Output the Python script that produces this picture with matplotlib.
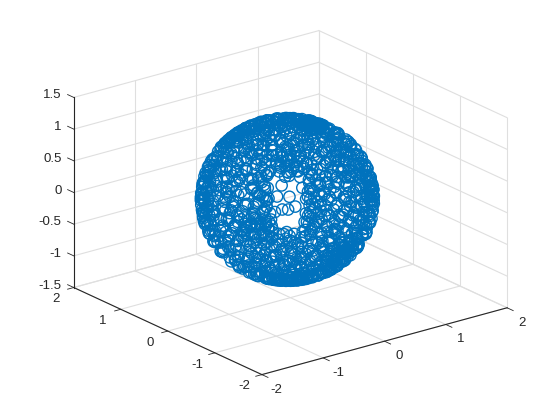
import matplotlib
matplotlib.use("Agg")
import matplotlib.pyplot as plt
import numpy as np
from mpl_toolkits.mplot3d import proj3d

plt.rcParams["font.family"] = ["Liberation Sans", "DejaVu Sans"]

radius_xy = 1.12
radius_z = 1.19
center = (-0.03, 0.025, 0.05)

# Latitude of each row and the longitudes read along it (degrees)
lat_rows = [87, 84, 81, 78, 75, 72, 69, 66, 63, 60, 57, 54, 51, 48, 45, 42, 39, 36, 33, 30,
            27, 24, 21, 18, 15, 12, 9, 6, 3, 0, -3, -6, -9, -12, -15, -18, -21, -24, -27, -30,
            -33, -36, -39, -42, -45, -48, -51, -54, -57, -60, -63, -66, -69, -72, -75, -78, -81, -84, -87,
            # denser patches
            25, 16, 8, 1, -5, -13, -20,
            71, 74, 68, 65,
            -20, -24, -28, -32,
            12, 8, 4, 0, -4,
            5, 1, -3, -7,
            -62, -66, -70, -58,
            50, 46, 42, 38,
            55, 50, 47,
            # second pass over the middle of the disc
            73.5, 67.5, 61.5, 58.5, 55.5, 52.5, 49.5, 46.5, 43.5, 40.5,
            37.5, 34.5, 31.5, 28.5, 25.5, 22.5, 19.5, 16.5, 13.5, 10.5, 7.5, 4.5, 1.5,
            -1.5, -4.5, -7.5, -10.5, -13.5, -16.5, -19.5, -22.5, -25.5, -28.5, -31.5, -34.5,
            -37.5, -40.5, -43.5, -46.5, -49.5, -52.5, -55.5, -58.5, -61.5, -64.5, -67.5, -70.5,
            -73.5, -76.5,
            # right part of the disc
            55, 49, 43, 37, 31, 25, 19, 13, 7, 1, -5, -11, -17, -23, -29, -35, -41, -47, -53, -59,
            # rings inside the gap
            32, 24, 15, 17, 3, -3, -1.5, 13,
            # around the gap
            10, 6, 2, -2, -6, 42, 45, 39, 30, 22, 12.5, 5.5,
            # solid patches: left edge, top, upper left
            22, 12, 6, -2, -9, -16,
            76, 79, 70, 73, 66,
            44, 48, 40, 52,
            # solid patches: lower left, lower right, right, bottom
            3, -1, -5, 7,
            -26, -22, -30, -18,
            14, 10, 6, 2,
            -64, -68, -60, -72]
lon_rows = [
    [-160, 25],
    [-95, 60, 170],
    [-140, -20, 40, 110],
    [-170, -75, 10, 85, 150],
    [-120, -65, -35, 30, 95, 165],
    [-155, -88, -48, -12, 47, 122, 178],
    [-178, -110, -60, -28, 5, 70, 103, 140],
    [-165, -135, -80, -22, 28, 55, 88, 118, 150],
    [-150, -118, -95, -45, -5, 15, 52, 108, 172],
    [-172, -125, -98, -70, -15, 2, 38, 80, 133, 160],
    [-160, -135, -105, -55, -28, 20, 62, 90, 115, 178],
    [-145, -112, -85, -38, 8, 48, 75, 100, 128, 150, 176],
    [-168, -128, -92, -62, -18, 14, 42, 70, 96, 122, 146],
    [-175, -150, -108, -75, -40, -8, 26, 58, 88, 112, 138, 165],
    [-158, -122, -88, -52, -20, 10, 36, 66, 104, 118, 132, 170],
    [-178, -143, -100, -66, -30, 2, 30, 74, 96, 126, 152],
    [-165, -146, -106, -78, -44, -12, 18, 52, 82, 110, 136, 160],
    [-175, -152, -95, -58, -26, 6, 40, 68, 100, 124, 148, 172],
    [-160, -110, -84, -48, -16, 24, 56, 90, 114, 142, 168],
    [-170, -145, -102, -70, -36, -4, 34, 62, 86, 120, 152, 178],
    [-155, -112, -90, -54, -22, 12, 44, 76, 106, 134, 160],
    [-178, -148, -104, -76, -42, -10, 20, 58, 92, 116, 140, 170],
    [-165, -142, -96, -64, -30, 6, 38, 70, 100, 128, 150],
    [-172, -150, -110, -82, -50, -18, 26, 54, 84, 112, 136, 164],
    [-158, -108, -72, -40, -6, 16, 46, 78, 104, 124, 146, 176],
    [-168, -144, -100, -60, -26, 10, 34, 66, 94, 118, 142, 160],
    [-176, -152, -112, -86, -46, -14, 22, 56, 88, 110, 132, 156],
    [-162, -142, -104, -68, -34, 4, 42, 74, 98, 126, 148, 170],
    [-170, -148, -110, -78, -52, -20, 14, 48, 82, 116, 138, 164],
    [-178, -156, -100, -62, -28, 8, 36, 68, 92, 122, 144, 174],
    [-166, -130, -94, -70, -38, -6, 26, 52, 86, 108, 134, 158],
    [-176, -146, -116, -84, -54, -16, 18, 44, 76, 102, 128, 152],
    [-160, -124, -98, -64, -30, 2, 30, 70, 96, 120, 140, 168],
    [-172, -138, -106, -74, -44, -12, 22, 78, 90, 114, 136, 162],
    [-154, -120, -88, -56, -24, 10, 34, 68, 100, 126, 148, 178],
    [-166, -132, -102, -70, -36, -4, 28, 72, 94, 118, 142, 170],
    [-148, -114, -82, -50, -18, 14, 36, 66, 106, 130, 156],
    [-174, -140, -108, -76, -42, -8, 24, 74, 98, 122, 144, 164],
    [-158, -126, -92, -60, -28, 6, 32, 68, 88, 112, 136, 176],
    [-168, -134, -100, -66, -34, -2, 20, 72, 104, 128, 152],
    [-150, -118, -84, -52, -16, 12, 36, 80, 96, 120, 146, 170],
    [-176, -142, -106, -72, -40, -6, 26, 66, 90, 114, 138, 160],
    [-160, -124, -90, -58, -22, 8, 34, 76, 108, 132, 154],
    [-170, -136, -98, -64, -30, 14, 30, 70, 94, 118, 144],
    [-152, -116, -80, -46, -10, 22, 38, 84, 106, 128, 166],
    [-178, -140, -102, -68, -26, 6, 34, 74, 98, 148],
    [-158, -122, -88, -50, -14, 20, 54, 90, 116, 170],
    [-168, -134, -96, -60, -24, 12, 44, 80, 130, 156],
    [-146, -110, -72, -36, 2, 34, 68, 104, 178],
    [-172, -128, -92, -52, -12, 24, 60, 120, 150],
    [-156, -116, -76, -30, 8, 48, 90, 138],
    [-138, -96, -56, -14, 30, 76, 118, 170],
    [-166, -108, -62, -18, 36, 94, 150],
    [-130, -78, -24, 40, 110, 176],
    [-152, -90, -20, 62, 134],
    [-112, -40, 30, 120],
    [-170, -60, 70],
    [-100, 40],
    [160],
    [125, 147, 168],
    [115, 138, 160],
    [128, 150, 172],
    [118, 141, 163],
    [112, 131, 155],
    [122, 146, 170],
    [116, 136, 160],
    [-38, -22, -8, 6],
    [-30, -14, 2, 20],
    [-32, -18, -4],
    [-40, -26, -6, 12],
    [-92, -84, -76],
    [-96, -86, -80],
    [-90, -82, -74],
    [-94, -78],
    [-58, -38, -22],
    [-52, -32, -14],
    [-60, -42, -24],
    [-48, -30, -12],
    [-56, -20],
    [-154, -146],
    [-150, -140],
    [-156, -144],
    [-150, -138],
    [-146, -128, -104],
    [-152, -118],
    [-138, -96],
    [-136, -120],
    [108, 124],
    [98, 114, 128],
    [106, 120, 135],
    [112, 128],
    [-140, -128],
    [-146, -134],
    [-138, -126],
    [-165, -130, -95, -60, 5, 38, 78, 115],
    [-158, -122, -90, 10, 42, 72, 104],
    [-162, -128, -84, 22, 58, 92, 124],
    [-178, -148, -118, -88, 8, 44, 76, 106],
    [-166, -124, -94, -66, 30, 56, 84, 112],
    [-172, -152, -114, -80, 18, 50, 78, 104],
    [-160, -118, -96, -68, 4, 36, 64, 92],
    [-170, -134, -104, -82, 22, 50, 80, 100],
    [-152, -112, -92, -72, 12, 44, 60, 86],
    [-166, -144, -108, -86, 28, 58, 78, 104],
    [-174, -150, -100, -80, 16, 42, 64, 94],
    [-158, -104, -88, -68, 8, 32, 70, 86],
    [-168, -146, -96, -76, 24, 50, 74, 98],
    [-154, -110, -86, -62, 14, 40, 66, 92],
    [-172, -150, -100, -78, 6, 34, 58, 84],
    [-160, -144, -108, -90, 20, 48, 74, 102],
    [-176, -148, -98, -70, 12, 42, 64, 96],
    [-156, -142, -104, -84, 28, 52, 80, 100],
    [-168, -110, -92, -66, 8, 38, 72, 90],
    [-150, -106, -80, -58, 18, 44, 62, 86],
    [-174, -146, -98, -74, 26, 50, 70, 104],
    [-160, -142, -108, -88, 12, 40, 60, 94],
    [-172, -152, -96, -66, 4, 30, 76, 100],
    [-164, -138, -112, -80, 22, 46, 84, 96],
    [-176, -150, -126, -92, 10, 36, 66, 90],
    [-158, -134, -104, -76, 24, 38, 72, 104],
    [-170, -142, -118, -90, 6, 32, 76, 98],
    [-164, -128, -98, -72, 18, 36, 66, 86],
    [-176, -146, -112, -84, 8, 26, 74, 102],
    [-156, -124, -94, -68, 20, 38, 70, 92],
    [-168, -136, -106, -78, 4, 30, 68, 84],
    [-152, -118, -88, -64, 16, 36, 78, 100],
    [-172, -144, -110, -82, 10, 26, 70, 94],
    [-160, -130, -96, -70, 22, 38, 66, 88],
    [-174, -148, -116, -86, 6, 32, 78, 100],
    [-156, -120, -94, -74, 18, 36, 68, 86],
    [-166, -132, -104, -80, 10, 28, 72, 96],
    [-178, -146, -112, -84, 20, 36, 66, 92],
    [-154, -122, -94, -70, 4, 30, 76, 100],
    [-168, -136, -106, -78, 14, 38, 68, 86],
    [-148, -116, -86, -60, 24, 50, 74, 98],
    [-170, -130, -98, -72, 8, 40, 62, 92],
    [-152, -118, -84, 18, 48, 80, 104],
    [-172, -136, -100, -66, 32, 58, 86],
    [-144, -106, -72, 12, 42, 70, 100],
    [-160, -122, -86, 26, 62, 94],
    [-146, -104, -66, 14, 52, 84],
    [-118, -74, 30, 72],
    [-150, -90, 10, 60],
    [-72, -46, -20, 6],
    [-58, -34, -10],
    [-74, -50, -22, 4],
    [-64, -38, -14, 10],
    [-76, -44, -28, 0],
    [-60, -32, -12, 8],
    [-70, -46, -24, 2],
    [-78, -52, -16, -2],
    [-64, -36, -8, 12],
    [-72, -42, -18, 6],
    [-66, -46, -26, 0],
    [-78, -54, -34, -8],
    [-62, -40, -20, 4],
    [-72, -48, -28, -4],
    [-58, -36, -14, 8],
    [-76, -50, -26, 0],
    [-66, -42, -18, 6],
    [-56, -32, -8],
    [-70, -44, -18, 10],
    [-60, -34, -6],
    [-132],
    [-135, -126],
    [-131, -127],
    [-122],
    [-138],
    [-133, -123],
    [-128],
    [-136],
    [48, 56],
    [52, 60],
    [46, 54],
    [50, 58],
    [54],
    [-128, -118],
    [-134, -112],
    [-126],
    [-116],
    [-114],
    [-112],
    [-116],
    [120, 134, 152],
    [126, 144, 166],
    [134, 158],
    [122, 148, 168],
    [128, 152],
    [130, 150, 172],
    [-35, -20, -5],
    [-40, -10, 15],
    [-42, -28, -12, 4],
    [-45, -25, -6],
    [-16, -2, 14],
    [102, 118, 132],
    [112, 126],
    [110, 124],
    [104, 118],
    [-152, -142],
    [-156, -146],
    [-152, -140],
    [-150],
    [-88, -78],
    [-94, -82],
    [-86, -76],
    [-88, -78],
    [-50, -30, -10],
    [-44, -24, -4],
    [-54, -18, 2],
    [-36, -8],
    [-160, -140, -122],
    [-150, -130, -110],
    [-158, -142],
    [-155, -125],
]

x_ticks = [-2, -1, 0, 1, 2]
y_ticks = [-2, -1, 0, 1, 2]
z_ticks = [-1.5, -1, -0.5, 0, 0.5, 1, 1.5]
z_tick_labels = ["-1.5", "-1", "-0.5", "0", "0.5", "1", "1.5"]

lat = np.radians(np.concatenate([[la] * len(row) for la, row in zip(lat_rows, lon_rows)]))
lon = np.radians(np.concatenate(lon_rows))
x = center[0] + radius_xy * np.cos(lat) * np.cos(lon)
y = center[1] + radius_xy * np.cos(lat) * np.sin(lon)
z = center[2] + radius_z * np.sin(lat)

fig = plt.figure(figsize=(5.6, 4.2), dpi=100)
ax = fig.add_axes([85 / 560, 12 / 420, 400 / 560, 400 / 420], projection="3d", proj_type="ortho")
ax.view_init(elev=20.8, azim=-127.5)
ax.set_box_aspect((1, 1, 0.658), zoom=1.17)
ax.set_xlim(-2, 2)
ax.set_ylim(-2, 2)
ax.set_zlim(-1.5, 1.5)
ax.set_xticks([])
ax.set_yticks([])
ax.set_zticks([])
ax.set_axis_off()
ax.computed_zorder = False

grid_style = dict(color="#dfdfdf", linewidth=0.8, zorder=1, clip_on=False)
dark_style = dict(color="#262626", linewidth=0.8, zorder=2, clip_on=False)
tick_style = dict(color="#262626", linewidth=0.6, zorder=2, clip_on=False)

# grid on the floor and the two back walls
for t in x_ticks:
    ax.plot([t, t], [-2, 2], [-1.5, -1.5], **grid_style)
    ax.plot([t, t], [2, 2], [-1.5, 1.5], **grid_style)
for t in y_ticks:
    ax.plot([-2, 2], [t, t], [-1.5, -1.5], **grid_style)
    ax.plot([2, 2], [t, t], [-1.5, 1.5], **grid_style)
for t in z_ticks:
    ax.plot([-2, 2], [2, 2], [t, t], **grid_style)
    ax.plot([2, 2], [-2, 2], [t, t], **grid_style)

# axis lines and outward ticks
ax.plot([-2, 2], [-2, -2], [-1.5, -1.5], **dark_style)
ax.plot([-2, -2], [-2, 2], [-1.5, -1.5], **dark_style)
ax.plot([-2, -2], [2, 2], [-1.5, 1.5], **dark_style)
for t in x_ticks:
    ax.plot([t, t], [-2, -2.13], [-1.5, -1.5], **tick_style)
for t in y_ticks:
    ax.plot([-2, -2.1], [t, t], [-1.5, -1.5], **tick_style)
for t in z_ticks:
    ax.plot([-2, -2], [2, 2.13], [t, t], **tick_style)

ax.scatter(x, y, z, s=66, facecolors="none", edgecolors="#0072BD", linewidths=1.0,
           depthshade=False, zorder=3, clip_on=False)


# tick labels, projected by hand so they stay plain 2D texts
def add_label(px, py, pz, s, ha):
    u, v, _ = proj3d.proj_transform(px, py, pz, ax.get_proj())
    ax.text2D(u, v, s, transform=ax.transData, ha=ha, va="center",
              color="#262626", fontsize=9.5, clip_on=False)


for t in x_ticks:
    add_label(t, -2.317, -1.628, str(t), "center")
for t in y_ticks:
    add_label(-2.29, t, -1.61, str(t), "center")
for t, s in zip(z_ticks, z_tick_labels):
    add_label(-2.123, 2.095, t + 0.03, s, "right")

fig.savefig("out.png", dpi=100)
